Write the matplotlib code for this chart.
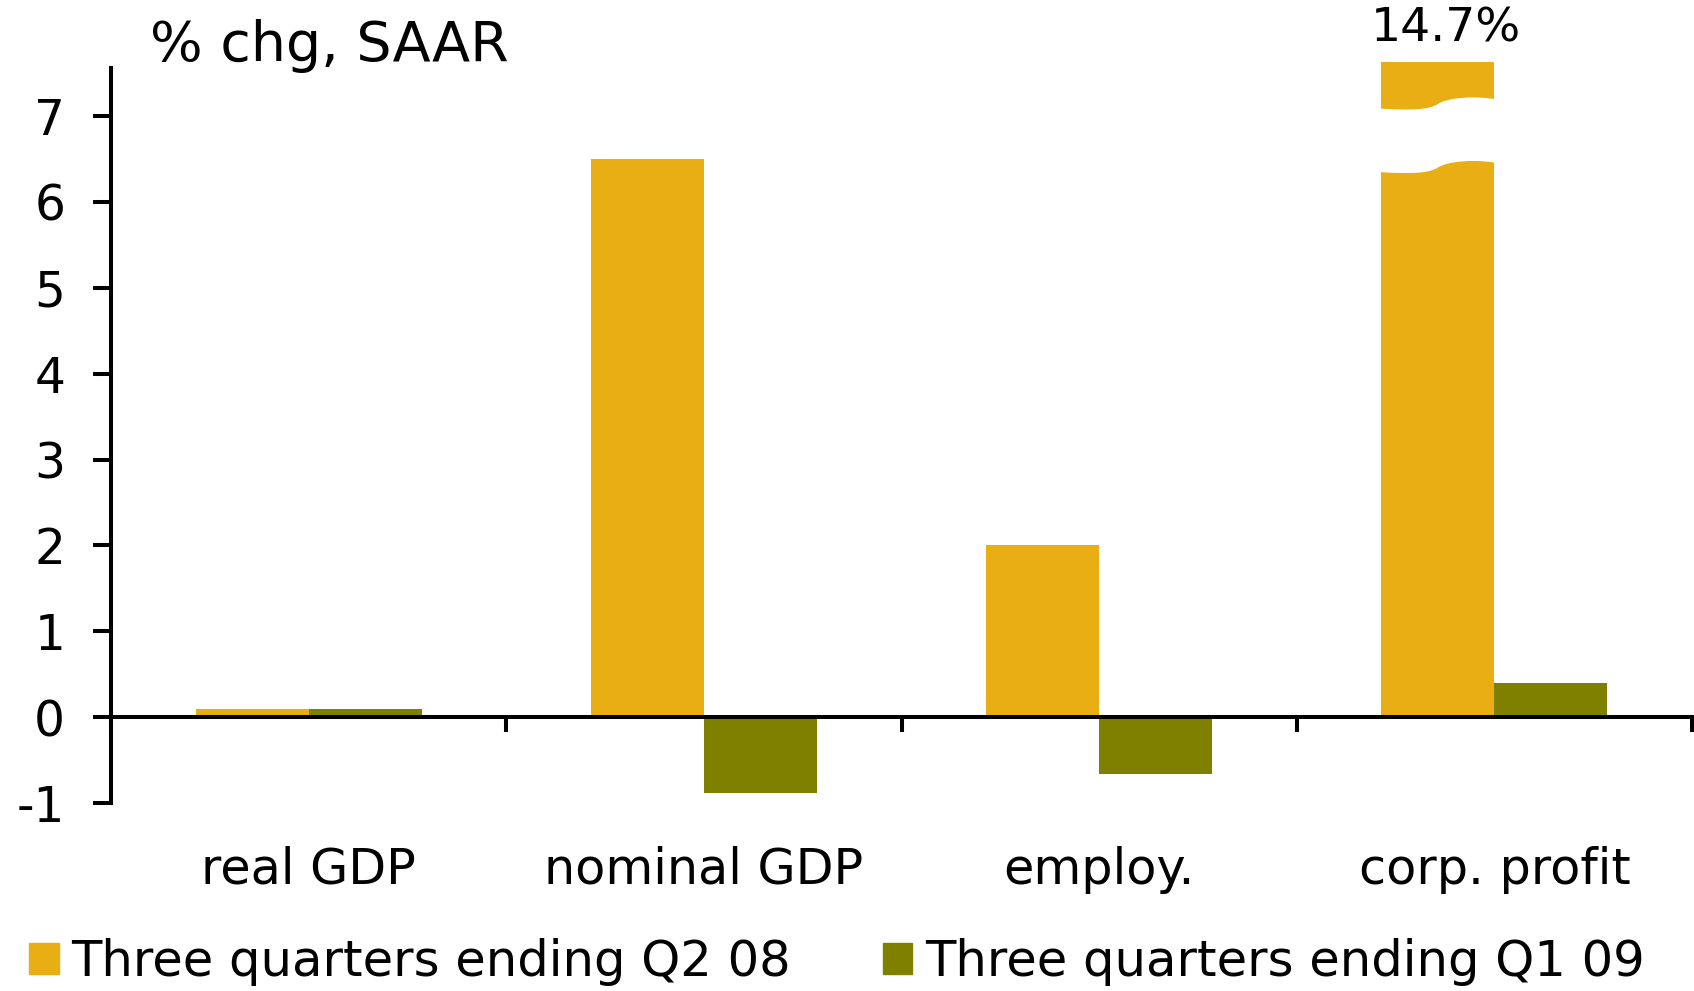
import matplotlib.pyplot as plt
import numpy as np
from matplotlib.patches import Patch, PathPatch
from matplotlib.path import Path

# data
categories = ['real GDP', 'nominal GDP', 'employ.', 'corp. profit']
q2_08 = [0.1, 6.5, 2.0, 14.7]
q1_09 = [0.1, -0.88, -0.66, 0.4]
series_labels = ['Three quarters ending Q2 08', 'Three quarters ending Q1 09']

YELLOW = '#E8AE14'
GREEN = '#808000'
CAP = 7.63  # where the broken bar is cut off

plt.rcParams['font.family'] = 'DejaVu Sans'
plt.rcParams['axes.unicode_minus'] = False

fig = plt.figure(figsize=(16.94, 9.91), dpi=100)
ax = fig.add_axes([111 / 1694, 1 - 803 / 991, (1692 - 111) / 1694, (803 - 68) / 991])

x = np.arange(len(categories))
w = 0.286
shown = [min(v, CAP) for v in q2_08]
ax.bar(x - w / 2, shown, w, color=YELLOW, clip_on=False, label=series_labels[0])
ax.bar(x + w / 2, q1_09, w, color=GREEN, label=series_labels[1])

# break on the off-scale bar
for i, v in enumerate(q2_08):
    if v > CAP:
        x0 = x[i] - w - 0.01
        x1 = x[i] + 0.01
        xm = x[i] - w / 2
        top = [(x0, 7.09), (xm - 0.06, 7.06), (xm - 0.02, 7.08), (xm, 7.14),
               (xm + 0.025, 7.22), (xm + 0.10, 7.24), (x1, 7.19)]
        bot = [(px, py - 0.74) for px, py in top[::-1]]
        verts = top + bot + [top[0]]
        codes = ([Path.MOVETO] + [Path.CURVE4] * 6 + [Path.LINETO] +
                 [Path.CURVE4] * 6 + [Path.CLOSEPOLY])
        ax.add_patch(PathPatch(Path(verts, codes), facecolor='white',
                               edgecolor='none', zorder=3))
        ax.text(xm + 0.02, CAP + 0.38, '{:.1f}%'.format(v), ha='center', va='center',
                fontsize=34, clip_on=False)

ax.set_xlim(-0.5, len(categories) - 0.5)
ax.set_ylim(-1, 7.56)
ax.set_yticks(range(-1, 8))
ax.set_xticks(np.arange(len(categories) + 1) - 0.5)
ax.set_xticklabels([])

ax.spines['top'].set_visible(False)
ax.spines['right'].set_visible(False)
ax.spines['bottom'].set_position(('data', 0))
for s in ('left', 'bottom'):
    ax.spines[s].set_linewidth(2.9)
    ax.spines[s].set_zorder(5)
ax.tick_params(axis='y', direction='out', length=13, width=2.9, pad=20, labelsize=35)
ax.tick_params(axis='x', direction='out', length=11, width=2.9)

for i, c in enumerate(categories):
    ax.text(x[i], -0.091, c, transform=ax.get_xaxis_transform(),
            ha='center', va='center', fontsize=35.5)

fig.text(150 / 1694, 1 - 46 / 991, '% chg, SAAR', ha='left', va='center', fontsize=40)

handles = [Patch(color=YELLOW), Patch(color=GREEN)]
fig.legend(handles, series_labels, loc='center left',
           bbox_to_anchor=(29 / 1694, 1 - 962 / 991), ncol=2, frameon=False,
           fontsize=35.7, handlelength=0.6, handleheight=0.6,
           handletextpad=0.25, columnspacing=1.85, borderpad=0, borderaxespad=0)

plt.savefig('out.png', dpi=100)
